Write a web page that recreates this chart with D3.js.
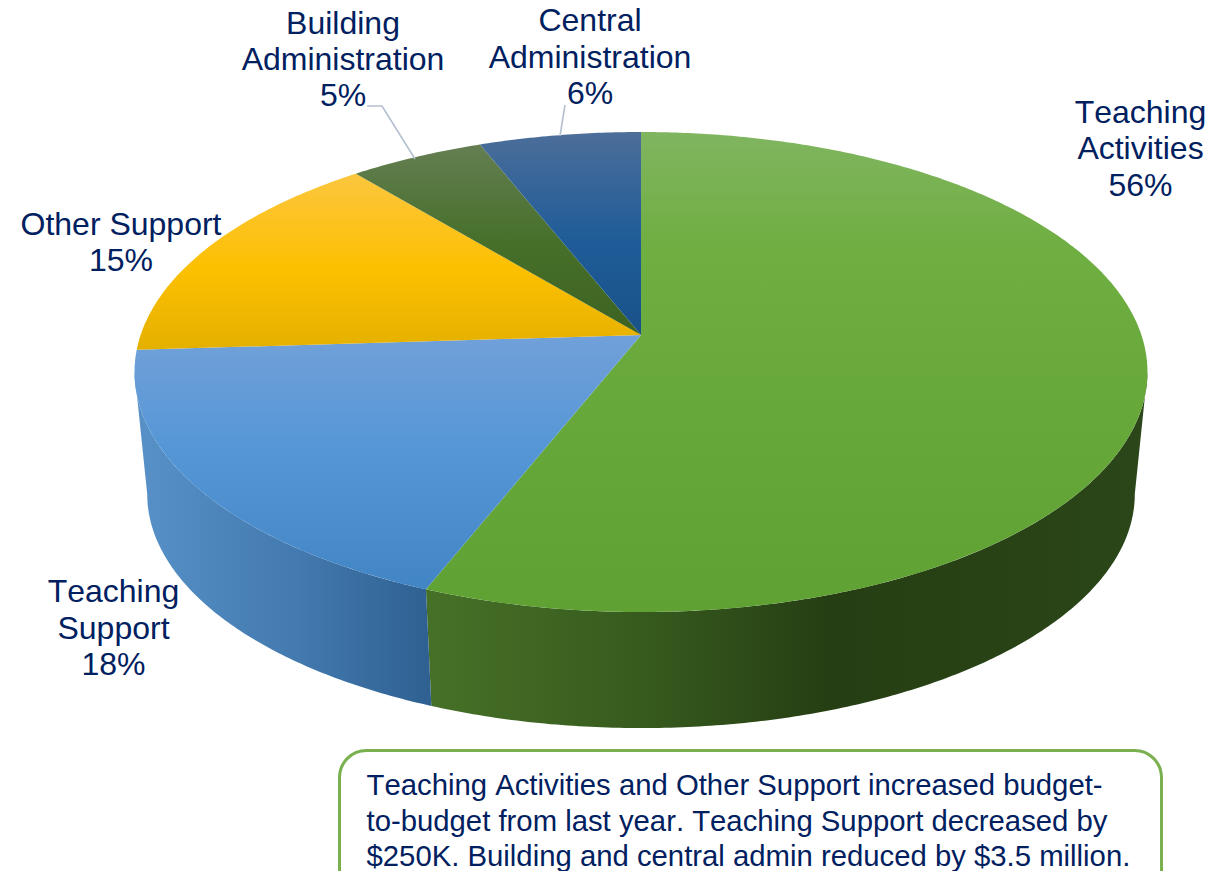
<!DOCTYPE html>
<html>
<head>
<meta charset="utf-8">
<title>Budget by function</title>
<script src="https://cdn.jsdelivr.net/npm/d3@7/dist/d3.min.js"></script>
<style>
  html, body { margin: 0; padding: 0; background: #fff; overflow: hidden; }
  svg { display: block; }
  text { font-family: "Liberation Sans", Arial, sans-serif; fill: #002060; font-kerning: none; }
</style>
</head>
<body>
<svg id="chart" width="1226" height="871"></svg>
<script>
// Budget shares, clockwise from twelve o'clock
const categories = ["Teaching Activities", "Teaching Support", "Other Support", "Building Administration", "Central Administration"];
const shares = [56, 18, 15, 5, 6];
const noteLines = [
  "Teaching Activities and Other Support increased budget-",
  "to-budget from last year. Teaching Support decreased by",
  "$250K. Building and central admin reduced by $3.5 million."
];

// Label text wrapped as it is drawn, with its anchor point
const labelPlacement = [
  { lines: ["Teaching", "Activities"], x: 1140.5, y: [123, 159, 196] },
  { lines: ["Teaching", "Support"], x: 113.5, y: [602, 639, 675] },
  { lines: ["Other Support"], x: 121, y: [235, 271] },
  { lines: ["Building", "Administration"], x: 343, y: [34, 70, 106] },
  { lines: ["Central", "Administration"], x: 590, y: [31, 68, 104] }
];

// Top-face gradient stops and side-wall gradient stops per slice
const topStops = [
  [[132, "#80b560"], [250, "#6fae41"], [612, "#5fa133"]],
  [[340, "#70a0d9"], [450, "#5596d6"], [590, "#4285c5"]],
  [[177, "#fcc63c"], [270, "#fcc000"], [350, "#e4b000"]],
  [[145, "#647e52"], [240, "#47702b"], [335, "#3c6320"]],
  [[132, "#4c6e9a"], [240, "#1f5c98"], [335, "#1a5289"]]
];
const wallStops = [
  [[432, "#467027"], [640, "#375b1e"], [830, "#253e13"], [1140, "#2b4618"]],
  [[147, "#5690c6"], [300, "#4279ae"], [436, "#2e5f90"]]
];

const svg = d3.select("#chart");
const defs = svg.append("defs");

// Perspective projection of the disc: k tilts the far edge away from the viewer
const apex = { x: 641, y: 335 };
const k = 0.1542, spanX = 500.4, spanY = 234.3;
const floorScale = 0.975, floorY = 458;
const project = (theta, level) => {
  const u = Math.sin(theta), v = Math.cos(theta), w = 1 + k * v;
  const s = level === "floor" ? floorScale : 1;
  const cy = level === "floor" ? floorY : apex.y;
  return [apex.x + s * spanX * u / w, cy - s * spanY * v / w];
};
const line = d3.line();
const arcPoints = (a0, a1, level) => {
  const n = Math.max(2, Math.ceil(Math.abs(a1 - a0) / 0.01));
  return d3.range(n + 1).map(i => project(a0 + (a1 - a0) * i / n, level));
};

const pie = d3.pie().sort(null).value(d => d).startAngle(0).endAngle(2 * Math.PI);
const arcs = pie(shares);

const addGradient = (id, stops, horizontal) => {
  const extent = d3.extent(stops, d => d[0]);
  const g = defs.append("linearGradient").attr("id", id).attr("gradientUnits", "userSpaceOnUse")
    .attr("x1", horizontal ? extent[0] : 0).attr("x2", horizontal ? extent[1] : 0)
    .attr("y1", horizontal ? 0 : extent[0]).attr("y2", horizontal ? 0 : extent[1]);
  const t = d3.scaleLinear().domain(extent).range([0, 1]);
  stops.forEach(d => g.append("stop").attr("offset", t(d[0])).attr("stop-color", d[1]));
};
topStops.forEach((s, i) => addGradient("top" + i, s, false));
wallStops.forEach((s, i) => addGradient("wall" + i, s, true));

// Side wall is visible between the two silhouette tangents of the disc
const tangentOffset = Math.asin(k);
const wallFrom = Math.PI / 2 + tangentOffset;
const wallTo = 3 * Math.PI / 2 - tangentOffset;
const walls = [
  { a0: wallFrom, a1: arcs[0].endAngle, fill: "url(#wall0)" },
  { a0: arcs[1].startAngle, a1: wallTo, fill: "url(#wall1)" }
];
svg.append("g").selectAll("path").data(walls).join("path")
  .attr("d", d => line([...arcPoints(d.a0, d.a1, "top"), ...arcPoints(d.a1, d.a0, "floor")]) + "Z")
  .attr("fill", d => d.fill);

// Top faces of the slices
svg.append("g").selectAll("path").data(arcs).join("path")
  .attr("d", d => line([[apex.x, apex.y], ...arcPoints(d.startAngle, d.endAngle, "top")]) + "Z")
  .attr("fill", (d, i) => `url(#top${i})`);

// Leader lines for the two narrow slices
svg.append("g").attr("fill", "none").attr("stroke", "#b4c0d0").attr("stroke-width", 1.6)
  .selectAll("path").data([
    [[367, 106], [382, 106], [415, 159]],
    [[565, 105], [560, 136]]
  ]).join("path").attr("d", d => line(d));

// Category and percentage labels
const labels = svg.append("g").attr("font-size", 32).attr("text-anchor", "middle");
labelPlacement.forEach((p, i) => {
  const rows = [...p.lines, shares[i] + "%"];
  rows.forEach((row, r) => {
    labels.append("text").attr("x", p.x).attr("y", p.y[r]).text(row);
  });
});

// Call-out box running off the lower edge
svg.append("rect")
  .attr("x", 339.5).attr("y", 750.5).attr("width", 822).attr("height", 170).attr("rx", 27).attr("ry", 27)
  .attr("fill", "#fff").attr("stroke", "#7ab04e").attr("stroke-width", 3);
svg.append("g").attr("font-size", 29.3).selectAll("text").data(noteLines).join("text")
  .attr("x", 366.5).attr("y", (d, i) => [795, 831, 866][i]).text(d => d);
</script>
</body>
</html>
